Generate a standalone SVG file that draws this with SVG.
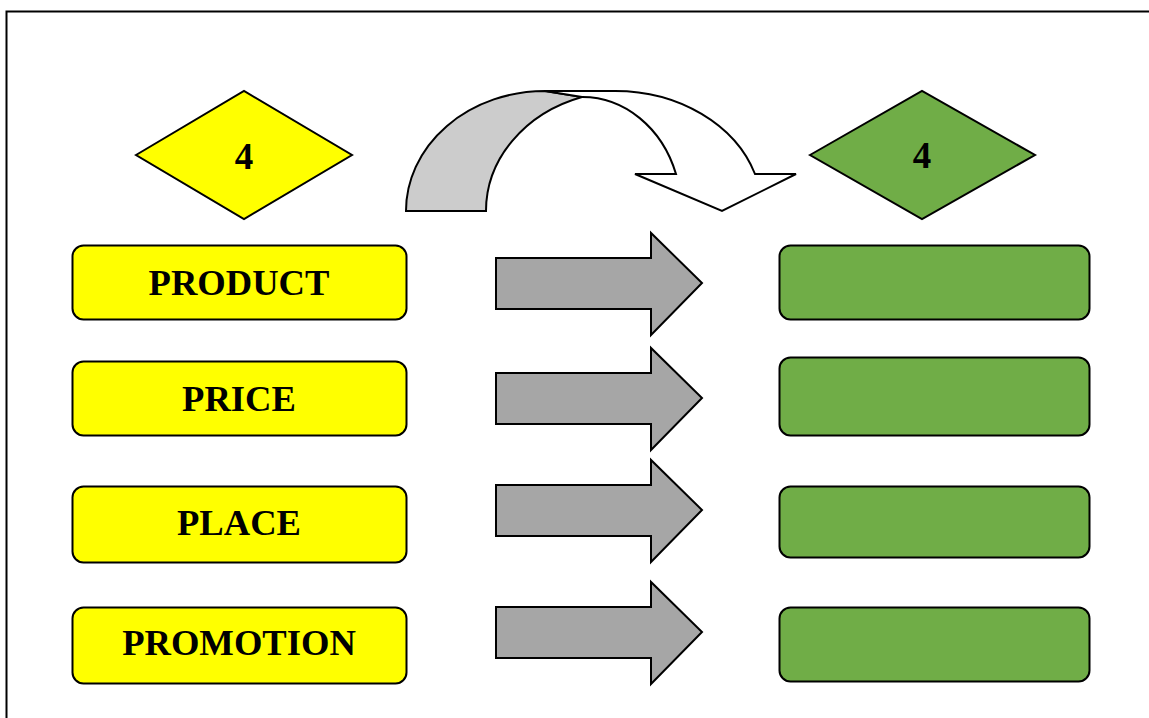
<svg xmlns="http://www.w3.org/2000/svg" width="1149" height="718" viewBox="0 0 1149 718">
  <style>
    .ln { stroke: #000; stroke-width: 2; stroke-linejoin: miter; }
    .yel { fill: #FFFF00; }
    .grn { fill: #70AD47; }
    .blk { fill: #A6A6A6; }
    .lbl { font-family: "Liberation Serif", "Times New Roman", serif; font-weight: bold; font-size: 36.6px; fill: #000; text-anchor: middle; }
    .num { font-family: "Liberation Serif", "Times New Roman", serif; font-weight: bold; font-size: 37px; fill: #000; text-anchor: middle; }
  </style>
  <defs>
    <path id="blockArrow" d="M0,-25 L155,-25 L155,-50 L206,0 L155,52 L155,26 L0,26 Z"/>
  </defs>
  <rect width="1149" height="718" fill="#fff"/>
  <!-- page frame -->
  <rect x="6.5" y="11.5" width="1160" height="730" fill="none" stroke="#000" stroke-width="2"/>

  <!-- curved down arrow -->
  <g id="curved-arrow">
    <path class="ln" fill="#CCCCCC" d="M406,211 A139,120 0 0 1 545,91 L582,97 A139.5,120 0 0 0 486,211 Z"/>
    <path class="ln" fill="#FFFFFF" d="M545,91 L615,91 A147,120 0 0 1 755,174 L796,174 L722,211 L635,174 L676,174 A99,114 0 0 0 582,97 Z"/>
  </g>

  <g id="diamond-left">
    <polygon class="ln yel" points="136,155 244,91 352,155 244,219"/>
    <text class="num" x="244" y="169">4</text>
  </g>
  <g id="diamond-right">
    <polygon class="ln grn" points="810,155 922,91 1035,155 922,219"/>
    <text class="num" x="922" y="168">4</text>
  </g>

  <g id="product">
    <rect class="ln yel" x="72.5" y="245.5" width="334" height="74" rx="11"/>
    <text class="lbl" x="239" y="295">PRODUCT</text>
  </g>
  <g id="price">
    <rect class="ln yel" x="72.5" y="361.5" width="334" height="74" rx="11"/>
    <text class="lbl" x="239" y="411">PRICE</text>
  </g>
  <g id="place">
    <rect class="ln yel" x="72.5" y="486.5" width="334" height="76" rx="11"/>
    <text class="lbl" x="239" y="535">PLACE</text>
  </g>
  <g id="promotion">
    <rect class="ln yel" x="72.5" y="607.5" width="334" height="76" rx="11"/>
    <text class="lbl" x="239" y="655">PROMOTION</text>
  </g>

  <g id="connectors">
    <use href="#blockArrow" class="ln blk" x="496" y="283"/>
    <use href="#blockArrow" class="ln blk" x="496" y="398"/>
    <use href="#blockArrow" class="ln blk" x="496" y="510"/>
    <use href="#blockArrow" class="ln blk" x="496" y="632"/>
  </g>

  <g id="result-1"><rect class="ln grn" x="779.5" y="245.5" width="310" height="74" rx="11"/></g>
  <g id="result-2"><rect class="ln grn" x="779.5" y="357.5" width="310" height="78" rx="11"/></g>
  <g id="result-3"><rect class="ln grn" x="779.5" y="486.5" width="310" height="71" rx="11"/></g>
  <g id="result-4"><rect class="ln grn" x="779.5" y="607.5" width="310" height="74" rx="11"/></g>
</svg>
